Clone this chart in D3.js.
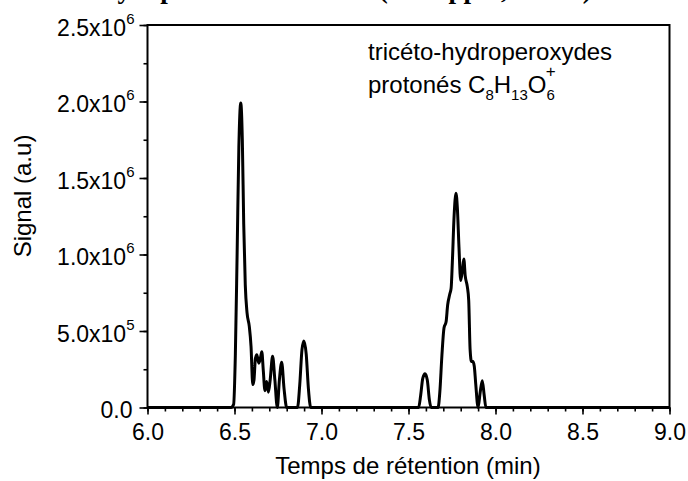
<!DOCTYPE html>
<html>
<head>
<meta charset="utf-8">
<script src="https://cdn.jsdelivr.net/npm/d3@7"></script>
<style>
  body { margin: 0; background: #fff; }
  svg { display: block; }
  text { font-family: Arial, "Liberation Sans", sans-serif; fill: #000; }
</style>
</head>
<body>
<svg id="chart" width="688" height="481"></svg>
<script>
// ---- data ----
const times = [
  6.00, 6.48, 6.495, 6.505, 6.515, 6.525, 6.536, 6.545, 6.553, 6.562, 6.572, 6.585, 6.595, 6.605,
  6.612, 6.620, 6.628, 6.640, 6.650, 6.657, 6.665, 6.675, 6.685, 6.695, 6.705, 6.719, 6.732, 6.746,
  6.758, 6.771, 6.785, 6.800, 6.862, 6.875, 6.888, 6.899, 6.912, 6.925, 6.938,
  7.558, 7.570, 7.582, 7.595, 7.608, 7.620, 7.630,
  7.670, 7.680, 7.692, 7.704, 7.716, 7.725, 7.737, 7.745, 7.752, 7.762, 7.773, 7.781, 7.790, 7.800,
  7.810, 7.818, 7.826, 7.838, 7.846, 7.854, 7.862, 7.870, 7.878, 7.886, 7.900, 7.912, 7.924, 7.935,
  7.945, 9.00
];
const signal = [
  0, 0, 20000, 350000, 1000000, 1700000, 1990000, 1750000, 1200000, 800000, 620000, 530000, 400000, 150000,
  180000, 320000, 345000, 290000, 330000, 365000, 250000, 110000, 170000, 100000, 180000, 335000, 180000, 0,
  180000, 295000, 120000, 0, 0, 150000, 380000, 435000, 350000, 120000, 0,
  0, 80000, 190000, 220000, 180000, 50000, 0,
  0, 100000, 340000, 520000, 560000, 670000, 740000, 780000, 950000, 1250000, 1400000, 1300000, 1050000, 830000,
  900000, 970000, 860000, 790000, 700000, 380000, 300000, 300000, 270000, 160000, 0, 100000, 175000, 80000,
  0, 0
];
const xMajorTicks = [6.0, 6.5, 7.0, 7.5, 8.0, 8.5, 9.0];
const xTickLabels = ["6.0", "6.5", "7.0", "7.5", "8.0", "8.5", "9.0"];
const xMinorTicks = d3.range(6.0, 9.001, 0.1).map(v => +v.toFixed(1));
const yMajorTicks = [0, 500000, 1000000, 1500000, 2000000, 2500000];
const yTickMantissa = ["0.0", "5.0x10", "1.0x10", "1.5x10", "2.0x10", "2.5x10"];
const yTickExponent = ["", "5", "6", "6", "6", "6"];
const yMinorTicks = d3.range(0, 2500001, 250000);
const titleText = "Analyse par HPLC-HRMS (1000 ppm, 625 K)";
const legendLine1 = "tricéto-hydroperoxydes";
const xTitle = "Temps de rétention (min)";
const yTitle = "Signal (a.u)";

// ---- layout ----
const svg = d3.select("#chart");
const L = 147.5, R = 669.5, T = 25, B = 407.5;
const x = d3.scaleLinear().domain([6, 9]).range([L, R]);
const y = d3.scaleLinear().domain([0, 2500000]).range([B, T]);

// title, cut off at the very top as in the reference (only its lower part shows)
svg.append("text")
  .attr("x", 62).attr("y", -2)
  .style("font-family", "'Liberation Serif', 'Times New Roman', serif")
  .style("font-weight", "bold").style("font-size", "27px")
  .text(titleText);

// curve
const pts = times.map((t, i) => [t, signal[i]]);
const line = d3.line().x(d => x(d[0])).y(d => y(d[1])).curve(d3.curveMonotoneX);
svg.append("path").datum(pts)
  .attr("d", line).attr("fill", "none").attr("stroke", "#000")
  .attr("stroke-width", 3).attr("stroke-linejoin", "round");

// frame
svg.append("rect").attr("x", L).attr("y", T).attr("width", R - L).attr("height", B - T)
  .attr("fill", "none").attr("stroke", "#000").attr("stroke-width", 2);

// x axis
const gxMinor = svg.append("g").attr("transform", `translate(0,${B})`)
  .call(d3.axisBottom(x).tickValues(xMinorTicks).tickSize(4).tickFormat(""));
gxMinor.select(".domain").remove();
gxMinor.selectAll("line").attr("stroke-width", 1.6);

const gx = svg.append("g").attr("transform", `translate(0,${B})`)
  .call(d3.axisBottom(x).tickValues(xMajorTicks).tickSize(7).tickPadding(9)
    .tickFormat((d, i) => xTickLabels[i]));
gx.select(".domain").remove();
gx.selectAll("line").attr("stroke-width", 1.6);
gx.selectAll("text").attr("font-family", null).style("font-size", "23px");

// y axis
const gyMinor = svg.append("g").attr("transform", `translate(${L},0)`)
  .call(d3.axisLeft(y).tickValues(yMinorTicks).tickSize(4).tickFormat(""));
gyMinor.select(".domain").remove();
gyMinor.selectAll("line").attr("stroke-width", 1.6);

const gy = svg.append("g").attr("transform", `translate(${L},0)`)
  .call(d3.axisLeft(y).tickValues(yMajorTicks).tickSize(8).tickPadding(5).tickFormat(""));
gy.select(".domain").remove();
gy.selectAll("line").attr("stroke-width", 1.6);
gy.selectAll(".tick text").each(function (d, i) {
  const t = d3.select(this).attr("dy", "0.435em").attr("font-family", null)
    .style("font-size", "23px");
  if (yTickExponent[i] === "") {
    t.attr("x", -15);
    t.append("tspan").text(yTickMantissa[i]);
  } else {
    t.attr("x", -13);
    t.append("tspan").text(yTickMantissa[i]);
    t.append("tspan").attr("dy", -12).style("font-size", "15px").text(yTickExponent[i]);
  }
});

// axis titles
svg.append("text").attr("x", 408).attr("y", 474).attr("text-anchor", "middle")
  .style("font-size", "24px").text(xTitle);
svg.append("text").attr("transform", "translate(31,196) rotate(-90)")
  .attr("text-anchor", "middle").style("font-size", "24px").text(yTitle);

// legend text
svg.append("text").attr("x", 368).attr("y", 60).style("font-size", "24px").text(legendLine1);
const l2 = svg.append("text").attr("x", 368).attr("y", 93).style("font-size", "24px");
l2.append("tspan").text("protonés C");
l2.append("tspan").attr("dy", 7).style("font-size", "15px").text("8");
l2.append("tspan").attr("dy", -7).text("H");
l2.append("tspan").attr("dy", 7).style("font-size", "15px").text("13");
l2.append("tspan").attr("dy", -7).text("O");
l2.append("tspan").attr("dy", 7).style("font-size", "15px").text("6");
l2.append("tspan").attr("dx", -9).attr("dy", -23).style("font-size", "17px").text("+");
</script>
</body>
</html>
